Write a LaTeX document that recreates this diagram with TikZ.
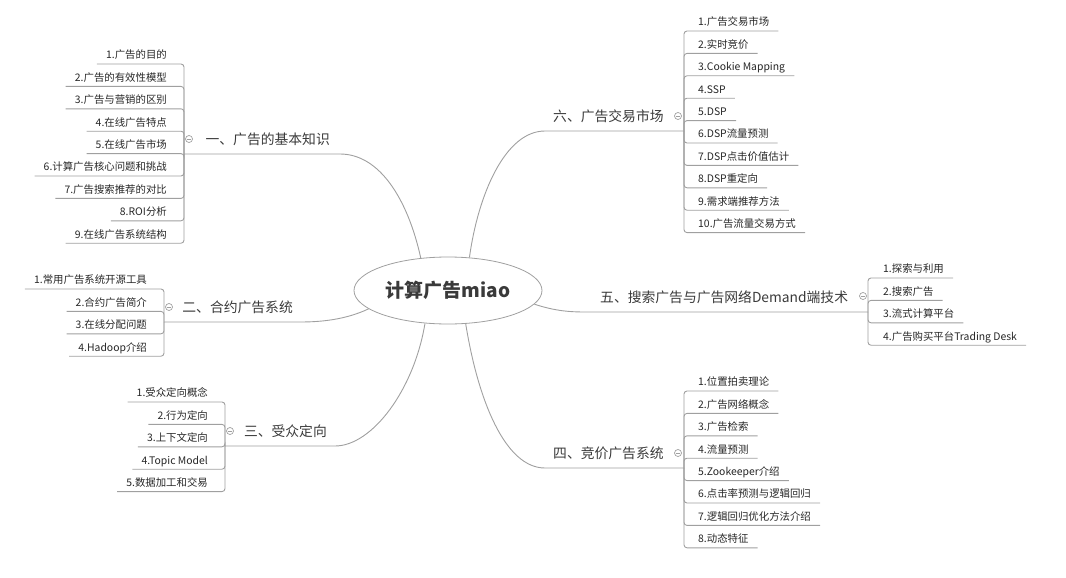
\documentclass[tikz,border=0pt]{standalone}
\usepackage{fontspec}
\setmainfont{Noto Sans CJK SC}
\usepackage{tikz}
\usetikzlibrary{positioning,shapes.geometric}
\definecolor{linegray}{HTML}{A0A0A0}
\definecolor{inkdark}{HTML}{262626}
\definecolor{inkgray}{HTML}{3A3A3A}

\begin{document}
\begin{tikzpicture}[
x=1pt, y=-1pt,
root/.style={ellipse, draw=linegray, line width=0.8pt, fill=white, minimum width=188pt, minimum height=67pt, inner sep=0pt, font=\fontsize{19}{22}\selectfont\bfseries, text=inkgray},
topic/.style={font=\fontsize{13.8}{16}\selectfont, text=inkgray, inner xsep=10pt, inner ysep=5pt, text height=10pt, text depth=4pt},
sub/.style={font=\fontsize{10.4}{12}\selectfont, text=inkdark, inner xsep=9pt, inner ysep=2.5pt, text height=7.5pt, text depth=2.5pt},
subl/.style={sub, anchor=south east},
subr/.style={sub, anchor=south west},
link/.style={draw=linegray, line width=0.9pt},
elbow/.style={draw=linegray, line width=0.9pt, rounded corners=3pt},
knob/.style={circle, draw=linegray, fill=white, line width=0.7pt, minimum size=7pt, inner sep=0pt,
  path picture={\draw[linegray, line width=0.7pt] ([xshift=-2pt]path picture bounding box.center) -- ([xshift=2pt]path picture bounding box.center);}}
]
\useasboundingbox (0,0) rectangle (1066,578);

% centre
\node[root] (root) at (448,290.5) {计算广告miao};

% main topics
\node[topic, anchor=south east] (t1) at (340,154) {一、广告的基本知识};
\node[topic, anchor=south east] (t2) at (303,322) {二、合约广告系统};
\node[topic, anchor=south east] (t3) at (337,446) {三、受众定向};
\node[topic, anchor=south west] (t4) at (543,468) {四、竞价广告系统};
\node[topic, anchor=south west] (t5) at (590,312) {五、搜索广告与广告网络Demand端技术};
\node[topic, anchor=south west] (t6) at (543,131) {六、广告交易市场};

% spine points
\coordinate (s1) at (184,154);
\coordinate (s2) at (164,322);
\coordinate (s3) at (225,446);
\coordinate (s4) at (684,468);
\coordinate (s5) at (868,312);
\coordinate (s6) at (684,131);

% curve ends
\coordinate (e1) at (340,154);
\coordinate (e2) at (300,322);
\coordinate (e3) at (335,446);
\coordinate (e4) at (545,468);
\coordinate (e5) at (585,312);
\coordinate (e6) at (545,131);

% topic 1
\node[subl] (c11) at (176,64) {1.广告的目的};
\node[subl] (c12) at (176,86.4) {2.广告的有效性模型};
\node[subl] (c13) at (176,108.8) {3.广告与营销的区别};
\node[subl] (c14) at (176,131.2) {4.在线广告特点};
\node[subl] (c15) at (176,153.6) {5.在线广告市场};
\node[subl] (c16) at (176,176) {6.计算广告核心问题和挑战};
\node[subl] (c17) at (176,198.4) {7.广告搜索推荐的对比};
\node[subl] (c18) at (176,220.8) {8.ROI分析};
\node[subl] (c19) at (176,243.2) {9.在线广告系统结构};

% topic 2
\node[subl] (c21) at (156,289) {1.常用广告系统开源工具};
\node[subl] (c22) at (156,311.4) {2.合约广告简介};
\node[subl] (c23) at (156,333.8) {3.在线分配问题};
\node[subl] (c24) at (156,356.2) {4.Hadoop介绍};

% topic 3
\node[subl] (c31) at (217,402) {1.受众定向概念};
\node[subl] (c32) at (217,424.4) {2.行为定向};
\node[subl] (c33) at (217,446.8) {3.上下文定向};
\node[subl] (c34) at (217,469.2) {4.Topic Model};
\node[subl] (c35) at (217,491.6) {5.数据加工和交易};

% topic 4
\node[subr] (c41) at (689,391) {1.位置拍卖理论};
\node[subr] (c42) at (689,413.4) {2.广告网络概念};
\node[subr] (c43) at (689,435.8) {3.广告检索};
\node[subr] (c44) at (689,458.2) {4.流量预测};
\node[subr] (c45) at (689,480.6) {5.Zookeeper介绍};
\node[subr] (c46) at (689,503) {6.点击率预测与逻辑回归};
\node[subr] (c47) at (689,525.4) {7.逻辑回归优化方法介绍};
\node[subr] (c48) at (689,547.8) {8.动态特征};

% topic 5
\node[subr] (c51) at (874,278) {1.探索与利用};
\node[subr] (c52) at (874,300.4) {2.搜索广告};
\node[subr] (c53) at (874,322.8) {3.流式计算平台};
\node[subr] (c54) at (874,345.2) {4.广告购买平台Trading Desk};

% topic 6
\node[subr] (c61) at (689,31) {1.广告交易市场};
\node[subr] (c62) at (689,53.4) {2.实时竞价};
\node[subr] (c63) at (689,75.8) {3.Cookie Mapping};
\node[subr] (c64) at (689,98.2) {4.SSP};
\node[subr] (c65) at (689,120.6) {5.DSP};
\node[subr] (c66) at (689,143) {6.DSP流量预测};
\node[subr] (c67) at (689,165.4) {7.DSP点击价值估计};
\node[subr] (c68) at (689,187.8) {8.DSP重定向};
\node[subr] (c69) at (689,210.2) {9.需求端推荐方法};
\node[subr] (c610) at (689,232.6) {10.广告流量交易方式};

% branches
\draw[link] (root.130) .. controls (408,200) and (380,154) .. (e1) -- (s1);
\draw[link] (root.193) .. controls (345,320) and (320,322) .. (e2) -- (s2);
\draw[link] (root.235) .. controls (414,390) and (372,446) .. (e3) -- (s3);
\draw[link] (root.298) .. controls (478,400) and (505,468) .. (e4) -- (s4);
\draw[link] (root.351) .. controls (555,311) and (570,312) .. (e5) -- (s5);
\draw[link] (root.57.5) .. controls (478,195) and (505,131) .. (e6) -- (s6);

% sub links
\draw[elbow] (s1) |- (c11.south west);
\draw[elbow] (s1) |- (c12.south west);
\draw[elbow] (s1) |- (c13.south west);
\draw[elbow] (s1) |- (c14.south west);
\draw[elbow] (s1) |- (c15.south west);
\draw[elbow] (s1) |- (c16.south west);
\draw[elbow] (s1) |- (c17.south west);
\draw[elbow] (s1) |- (c18.south west);
\draw[elbow] (s1) |- (c19.south west);
\draw[elbow] (s2) |- (c21.south west);
\draw[elbow] (s2) |- (c22.south west);
\draw[elbow] (s2) |- (c23.south west);
\draw[elbow] (s2) |- (c24.south west);
\draw[elbow] (s3) |- (c31.south west);
\draw[elbow] (s3) |- (c32.south west);
\draw[elbow] (s3) |- (c33.south west);
\draw[elbow] (s3) |- (c34.south west);
\draw[elbow] (s3) |- (c35.south west);
\draw[elbow] (s4) |- (c41.south east);
\draw[elbow] (s4) |- (c42.south east);
\draw[elbow] (s4) |- (c43.south east);
\draw[elbow] (s4) |- (c44.south east);
\draw[elbow] (s4) |- (c45.south east);
\draw[elbow] (s4) |- (c46.south east);
\draw[elbow] (s4) |- (c47.south east);
\draw[elbow] (s4) |- (c48.south east);
\draw[elbow] (s5) |- (c51.south east);
\draw[elbow] (s5) |- (c52.south east);
\draw[elbow] (s5) |- (c53.south east);
\draw[elbow] (s5) |- (c54.south east);
\draw[elbow] (s6) |- (c61.south east);
\draw[elbow] (s6) |- (c62.south east);
\draw[elbow] (s6) |- (c63.south east);
\draw[elbow] (s6) |- (c64.south east);
\draw[elbow] (s6) |- (c65.south east);
\draw[elbow] (s6) |- (c66.south east);
\draw[elbow] (s6) |- (c67.south east);
\draw[elbow] (s6) |- (c68.south east);
\draw[elbow] (s6) |- (c69.south east);
\draw[elbow] (s6) |- (c610.south east);

% collapse knobs
\node[knob] (k1) at (189,139) {};
\node[knob] (k2) at (169,307) {};
\node[knob] (k3) at (230,431) {};
\node[knob] (k4) at (678,453) {};
\node[knob] (k5) at (863,296) {};
\node[knob] (k6) at (678,116) {};
\end{tikzpicture}
\end{document}
